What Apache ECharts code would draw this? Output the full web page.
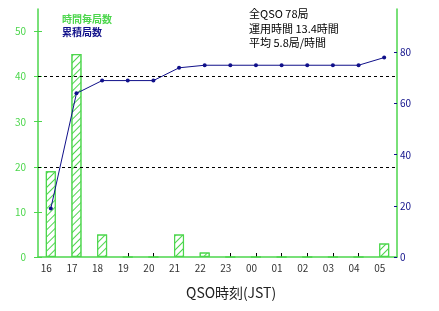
<!DOCTYPE html>
<html><head><meta charset="utf-8">
<script src="https://cdn.jsdelivr.net/npm/echarts@6/dist/echarts.min.js"></script>
<style>html,body{margin:0;padding:0;background:#fff}#c{width:439px;height:311px}</style>
</head><body><div id="c"></div>
<script>
const categories = ['16','17','18','19','20','21','22','23','00','01','02','03','04','05'];
const hourly = [19,45,5,0,0,5,1,0,0,0,0,0,0,3];
const cumulative = [19,64,69,69,69,74,75,75,75,75,75,75,75,78];
const leftTicks = [0,10,20,30,40,50];
const rightTicks = [0,20,40,60,80];
const refLines = [20,40];
const legendNames = ['時間毎局数','累積局数'];
const infoLines = ['全QSO 78局','運用時間 13.4時間','平均 5.8局/時間'];
const xTitle = 'QSO時刻(JST)';

const GREEN = '#4cd64c';
const NAVY = '#10108a';
const FONT = '"Noto Sans CJK JP", sans-serif';

const chart = echarts.init(document.getElementById('c'), null, {renderer:'canvas'});
chart.setOption({
  animation:false,
  backgroundColor:'#fff',
  grid:{left:38,right:42,top:9,bottom:54,containLabel:false},
  xAxis:{
    type:'category', data:categories, boundaryGap:true,
    axisLine:{lineStyle:{color:GREEN,width:1.5}},
    axisTick:{show:true,inside:true,length:4,alignWithLabel:true,interval:0,lineStyle:{color:'#000'}},
    axisLabel:{interval:0,color:'#333',fontSize:10,fontFamily:FONT,margin:6,padding:[0,9,0,0]},
    splitLine:{show:false}
  },
  yAxis:[
    {type:'value',min:0,max:55,position:'left',
     axisLine:{show:true,lineStyle:{color:GREEN,width:1.5}},
     axisTick:{show:true,length:4,lineStyle:{color:GREEN},customValues:leftTicks},
     axisLabel:{color:GREEN,fontSize:10,fontFamily:FONT,margin:12,customValues:leftTicks},
     splitLine:{show:false}},
    {type:'value',min:0,max:97,position:'right',
     axisLine:{show:true,lineStyle:{color:GREEN,width:1.5}},
     axisTick:{show:true,inside:true,length:3,lineStyle:{color:NAVY},customValues:rightTicks},
     axisLabel:{color:NAVY,fontSize:10,fontFamily:FONT,margin:3,customValues:rightTicks},
     splitLine:{show:false}},
    {type:'value',min:0,max:55,position:'left',
     axisLine:{show:false},
     axisTick:{show:true,inside:true,length:4,lineStyle:{color:GREEN},customValues:leftTicks},
     axisLabel:{show:false},
     splitLine:{show:false}}
  ],
  series:[
    {type:'bar',data:hourly,yAxisIndex:0,barWidth:10,
     itemStyle:{color:'#fff',borderColor:GREEN,borderWidth:1.2,
       decal:{symbol:'rect',symbolSize:1,dashArrayX:[1,0],dashArrayY:[1,4],rotation:-Math.PI/4,color:GREEN,backgroundColor:'#fff'}},
     markLine:{silent:true,symbol:'none',label:{show:false},
       lineStyle:{color:'#000',type:[3,3],width:1},
       data:refLines.map(v=>({yAxis:v}))},
     z:2},
    {type:'line',data:cumulative,yAxisIndex:1,
     lineStyle:{color:NAVY,width:1},itemStyle:{color:NAVY},
     symbol:'circle',symbolSize:4,showSymbol:true,z:3}
  ],
  graphic:[
    {type:'text',left:62,top:14,style:{text:legendNames[0],fill:GREEN,font:'bold 10px '+FONT}},
    {type:'text',left:62,top:27,style:{text:legendNames[1],fill:NAVY,font:'bold 10px '+FONT}},
    {type:'text',left:249,top:8,style:{text:infoLines[0],fill:'#000',font:'11px '+FONT}},
    {type:'text',left:249,top:23,style:{text:infoLines[1],fill:'#000',font:'11px '+FONT}},
    {type:'text',left:249,top:37,style:{text:infoLines[2],fill:'#000',font:'11px '+FONT}},
    {type:'text',left:186,top:286,style:{text:xTitle,fill:'#222',font:'14px '+FONT}}
  ]
});
</script></body></html>
